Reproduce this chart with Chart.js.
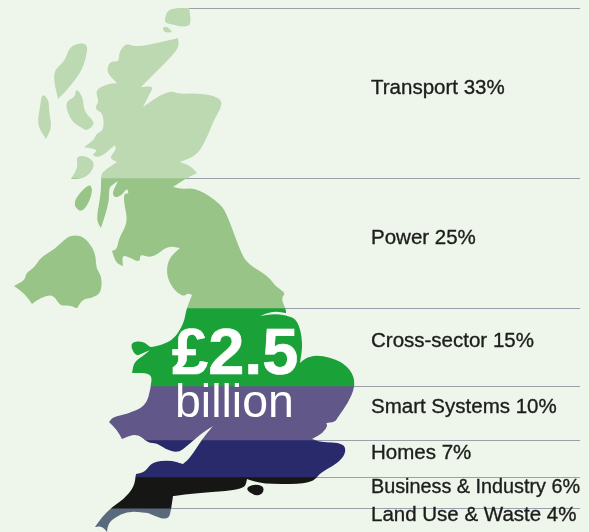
<!DOCTYPE html>
<html lang="en">
<head>
  <meta charset="UTF-8" />
  <title>£2.5 billion by sector</title>
  <script src="https://cdn.jsdelivr.net/npm/chart.js"></script>
  <style>
    body { margin: 0; background: #eef6ec; }
    canvas { display: block; }
  </style>
</head>
<body>
  <canvas id="chart" width="589" height="532"></canvas>

  <script>
    const sectors = ['Transport', 'Power', 'Cross-sector', 'Smart Systems', 'Homes', 'Business & Industry', 'Land Use & Waste'];
    const shares = [33, 25, 15, 10, 7, 6, 4];
    // band heights as they measure on the picture, slightly off the printed shares
    const bandHeights = [33, 25.25, 15.15, 10.5, 7.2, 6.05, 4.65];
    const bandColors = ['#bdd9b2', '#98c587', '#1aa238', '#625789', '#282a6b', '#161615', '#5a697c'];
    const lineStarts = [185, 180, 280, 350, 305, 310, 165];

    // the country outline, only used as a clip for the bars
    const mapShapes = [
      // shetland
      [[189,7],[189,7],[176,8],[168,10],[165,17],[165,23],[171,24],[178,26],[188,27],[191,22]],
      [[162,28],[167,26],[172,32],[172,32],[165,33]],
      // hebrides
      [[88,44],[86,58],[81,72],[68,89],[58,99],[58,99],[52,72],[65,61],[69,48],[78,43]],
      [[42,93],[49,100],[49,113],[52,127],[46,139],[46,139],[37,125],[40,107]],
      [[76,88],[83,97],[84,112],[96,123],[87,131],[82,128],[72,122],[66,108],[67,101],[75,97]],
      [[76,156],[87,156],[95,163],[91,173],[82,179],[71,179],[71,179],[78,167]],
      [[89,183],[93,190],[88,205],[80,213],[72,202]],
      // northern ireland
      [[75,235],[84,237],[93,248],[96,258],[96,268],[102,277],[101,293],[92,298],[83,299],[77,308],[77,308],[68,305],[60,306],[53,294],[40,298],[32,304],[32,304],[25,294],[14,286],[14,286],[25,280],[26,273],[34,268],[41,257],[55,249],[67,237]],
      // isle of wight
      [[245,489],[253,484],[264,486],[263,494],[255,496]],
      // mainland
      [[126,43],[132,46],[142,46],[157,43],[178,38],[178,38],[179,47],[171,57],[158,70],[141,87],[141,87],[154,86],[149,95],[143,107],[143,107],[160,95],[172,91],[178,94],[200,93],[218,97],[223,104],[213,122],[209,133],[198,155],[180,162],[180,162],[191,166],[197,173],[197,173],[185,179],[173,187],[173,187],[182,189],[197,188],[221,204],[228,217],[241,253],[248,264],[268,276],[276,287],[286,293],[281,298],[286,310],[286,313],[286,313],[273,311],[260,316],[260,316],[273,314],[286,315],[298,320],[303,343],[300,363],[300,363],[307,357],[320,355],[341,361],[353,373],[355,387],[348,403],[338,417],[335,422],[325,423],[328,425],[323,433],[312,439],[312,439],[320,442],[344,443],[346,453],[338,463],[320,473],[314,481],[300,484],[263,484],[247,479],[247,479],[245,488],[227,491],[197,493],[173,496],[173,496],[171,510],[169,518],[162,519],[148,513],[148,513],[128,511],[114,518],[108,524],[107,532],[107,532],[102,526],[95,527],[95,527],[102,517],[112,507],[124,499],[134,487],[136,474],[136,474],[145,472],[152,462],[170,460],[183,464],[183,464],[190,458],[203,438],[213,426],[213,426],[202,433],[187,446],[178,453],[165,449],[157,443],[148,443],[137,433],[122,439],[122,439],[117,430],[109,422],[109,422],[113,417],[127,414],[146,406],[151,387],[152,373],[132,373],[132,373],[134,362],[143,356],[150,350],[150,350],[141,354],[136,356],[131,348],[132,342],[142,341],[148,345],[151,348],[173,341],[184,323],[186,310],[192,295],[192,295],[188,293],[183,297],[172,288],[166,273],[169,258],[180,248],[180,248],[168,246],[155,256],[147,257],[140,254],[140,263],[127,256],[122,256],[123,266],[123,266],[116,263],[112,251],[112,251],[117,249],[119,238],[128,222],[124,203],[124,193],[129,194],[127,188],[122,195],[115,198],[112,193],[118,181],[118,181],[112,185],[109,188],[109,203],[101,228],[101,228],[96,220],[101,193],[101,178],[102,172],[117,162],[117,162],[109,158],[116,150],[115,145],[115,145],[100,158],[91,155],[99,150],[84,147],[84,147],[94,140],[97,133],[104,130],[103,113],[96,110],[96,105],[99,102],[95,90],[107,84],[117,83],[117,83],[106,72],[110,61],[119,62],[119,52]]
    ];

    function mapPath() {
      const path = new Path2D();
      mapShapes.forEach(pts => {
        const mid = i => {
          const a = pts[i % pts.length], b = pts[(i + 1) % pts.length];
          return [(a[0] + b[0]) / 2, (a[1] + b[1]) / 2];
        };
        path.moveTo(...mid(0));
        for (let i = 1; i <= pts.length; i++) {
          const p = pts[i % pts.length], m = mid(i);
          path.quadraticCurveTo(p[0], p[1], m[0], m[1]);
        }
        path.closePath();
      });
      return path;
    }

    const mapLayer = {
      id: 'mapLayer',
      beforeDatasetsDraw(chart) {
        const { ctx, scales: { y } } = chart;
        let total = 0;
        ctx.save();
        ctx.strokeStyle = '#9b9eab';
        ctx.lineWidth = 1;
        bandHeights.forEach((h, i) => {
          const py = Math.round(y.getPixelForValue(total)) + 0.5;
          ctx.beginPath();
          ctx.moveTo(lineStarts[i], py);
          ctx.lineTo(580, py);
          ctx.stroke();
          total += h;
        });
        ctx.restore();
        ctx.save();
        ctx.clip(mapPath());
      },
      afterDatasetsDraw(chart) {
        const { ctx, scales: { y } } = chart;
        ctx.restore();

        ctx.save();
        ctx.textBaseline = 'middle';
        ctx.fillStyle = '#1d1d1b';
        ctx.strokeStyle = '#1d1d1b';
        ctx.lineWidth = 0.35;
        ctx.font = '20.5px "Liberation Sans"';
        let total = 0;
        sectors.forEach((name, i) => {
          const mid = y.getPixelForValue(total + bandHeights[i] / 2);
          const text = name + ' ' + shares[i] + '%';
          ctx.fillText(text, 371, mid - 5, 209);
          ctx.strokeText(text, 371, mid - 5, 209);
          total += bandHeights[i];
        });

        ctx.fillStyle = '#ffffff';
        ctx.strokeStyle = '#ffffff';
        ctx.textBaseline = 'alphabetic';
        ctx.font = 'bold 65px "Liberation Sans"';
        ctx.lineWidth = 0.6;
        ctx.fillText('£2.5', 172, 374);
        ctx.strokeText('£2.5', 172, 374);
        ctx.font = '46.5px "Liberation Sans"';
        ctx.fillText('billion', 175, 417);
        ctx.restore();
      }
    };

    new Chart(document.getElementById('chart'), {
      type: 'bar',
      data: {
        labels: ['Share'],
        datasets: bandHeights.map((h, i) => ({
          label: sectors[i],
          data: [h],
          backgroundColor: bandColors[i],
          borderWidth: 0,
          barPercentage: 1,
          categoryPercentage: 1
        }))
      },
      options: {
        responsive: false,
        animation: false,
        layout: { padding: { top: 8, bottom: 0, left: 0, right: 0 } },
        plugins: { legend: { display: false }, tooltip: { enabled: false } },
        scales: {
          x: { display: false, stacked: true },
          y: { display: false, stacked: true, reverse: true, min: 0, max: 101.8 }
        }
      },
      plugins: [mapLayer]
    });
  </script>
</body>
</html>
